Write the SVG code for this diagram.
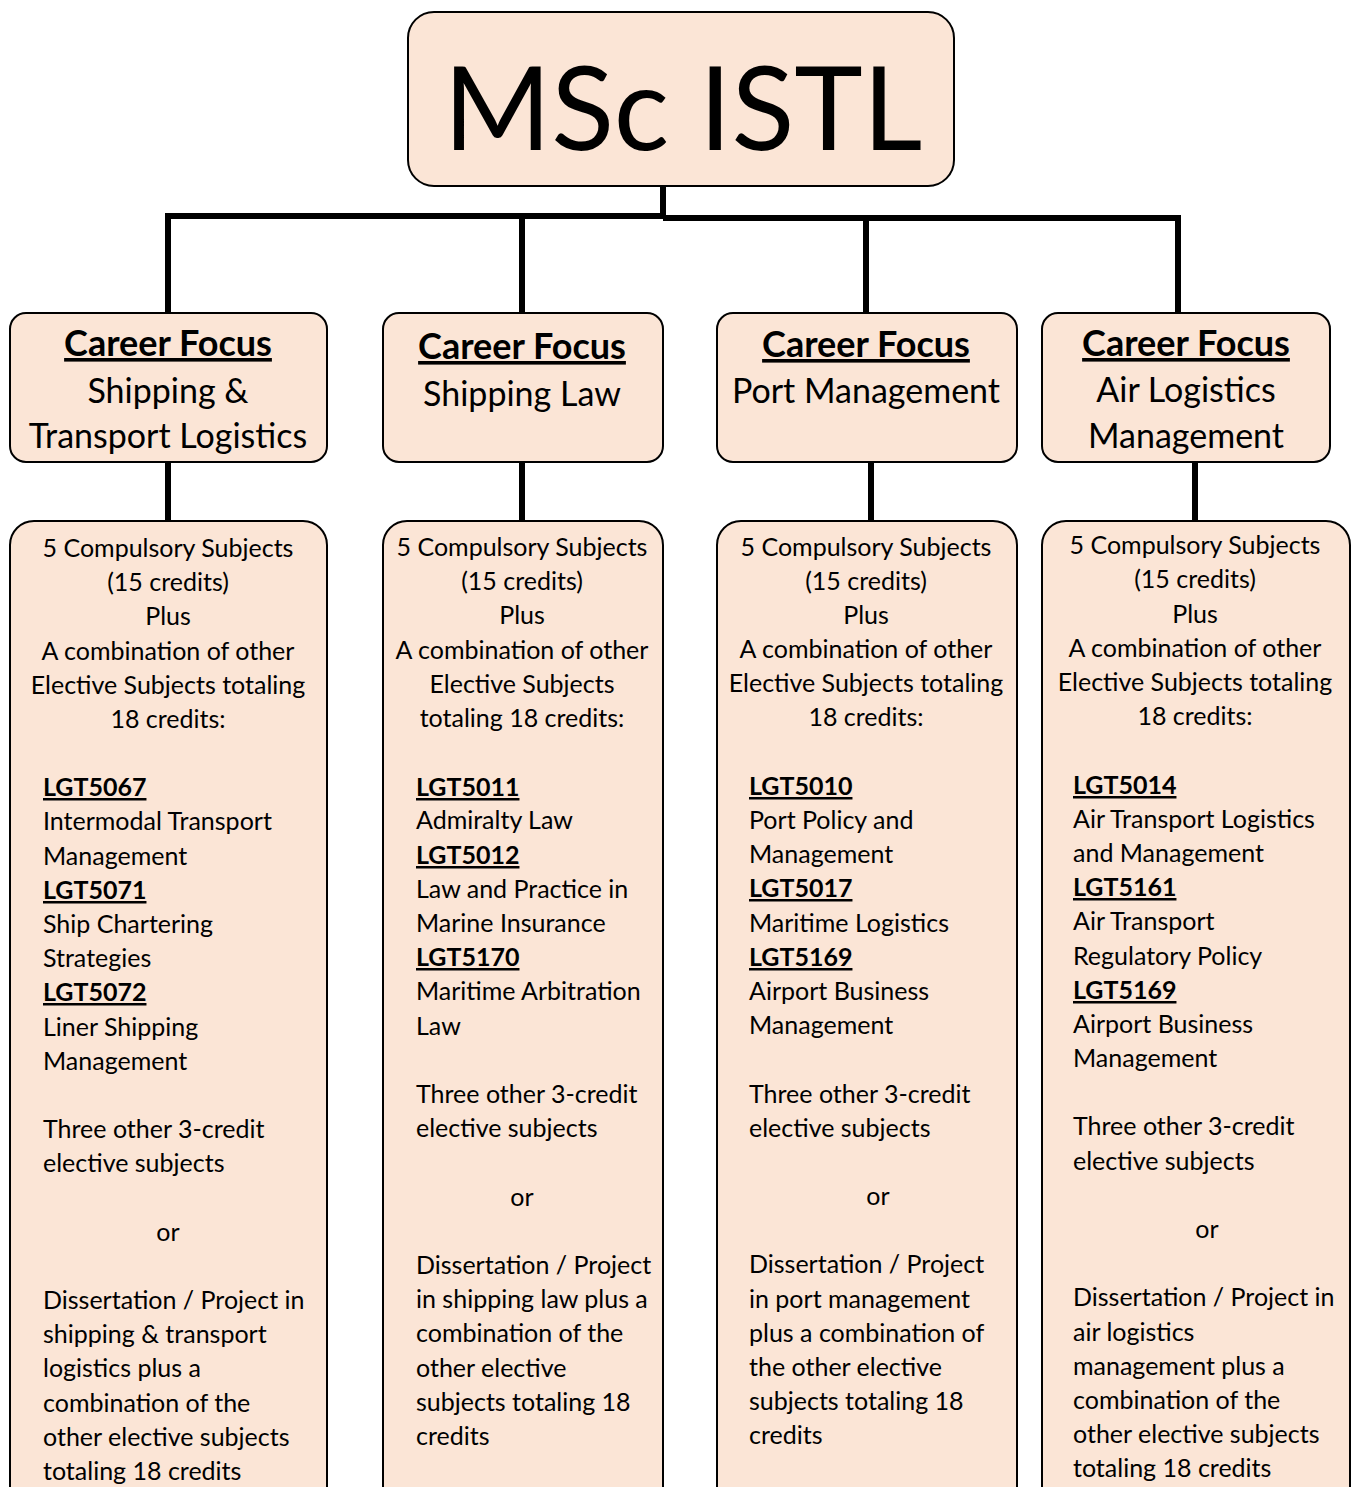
<svg xmlns="http://www.w3.org/2000/svg" width="1355" height="1487" viewBox="0 0 1355 1487">
<style>
.box{fill:#FBE5D6;stroke:#000;stroke-width:2}
.con{stroke:#000;stroke-width:6;fill:none;stroke-linecap:butt}
text{font-family:Lato,"Open Sans","Liberation Sans",sans-serif;fill:#000}
.t{font-size:116px;text-anchor:middle}
.h{font-size:36px;font-weight:bold;text-anchor:middle;text-decoration:underline}
.s{font-size:34px;text-anchor:middle}
.b{font-size:25px}
.m{text-anchor:middle}
.c{font-weight:bold;text-decoration:underline}
</style>
<rect width="1355" height="1487" fill="#fff"/>
<g id="connectors">
<path class="con" d="M663 186V216"/>
<path class="con" d="M165 216H663M663 218H1181"/>
<path class="con" d="M168 216V313M522 216V313M866 218V313M1178 218V313"/>
<path class="con" d="M168 462V521M522 462V521M871 462V521M1195 462V521"/>
</g>
<g id="root">
<rect class="box" x="408" y="12" width="546" height="174" rx="26"/>
<text class="t" x="683" y="150">MSc ISTL</text>
</g>
<g id="focus1">
<rect class="box" x="10" y="313" width="317" height="149" rx="16"/>
<text class="h" x="168" y="356">Career Focus</text>
<text class="s" x="168" y="403">Shipping &amp;</text>
<text class="s" x="168" y="448">Transport Logistics</text>
</g>
<g id="focus2">
<rect class="box" x="383" y="313" width="280" height="149" rx="16"/>
<text class="h" x="522" y="359">Career Focus</text>
<text class="s" x="522" y="406">Shipping Law</text>
</g>
<g id="focus3">
<rect class="box" x="717" y="313" width="300" height="149" rx="16"/>
<text class="h" x="866" y="357">Career Focus</text>
<text class="s" x="866" y="403">Port Management</text>
</g>
<g id="focus4">
<rect class="box" x="1042" y="313" width="288" height="149" rx="16"/>
<text class="h" x="1186" y="356">Career Focus</text>
<text class="s" x="1186" y="402">Air Logistics</text>
<text class="s" x="1186" y="448">Management</text>
</g>
<g id="detail1">
<rect class="box" x="10" y="521" width="317" height="990" rx="24"/>
<text class="b m" x="168" y="557">5 Compulsory Subjects</text>
<text class="b m" x="168" y="591">(15 credits)</text>
<text class="b m" x="168" y="625">Plus</text>
<text class="b m" x="168" y="660">A combination of other</text>
<text class="b m" x="168" y="694">Elective Subjects totaling</text>
<text class="b m" x="168" y="728">18 credits:</text>
<text class="b c" x="43" y="796">LGT5067</text>
<text class="b" x="43" y="830">Intermodal Transport</text>
<text class="b" x="43" y="865">Management</text>
<text class="b c" x="43" y="899">LGT5071</text>
<text class="b" x="43" y="933">Ship Chartering</text>
<text class="b" x="43" y="967">Strategies</text>
<text class="b c" x="43" y="1001">LGT5072</text>
<text class="b" x="43" y="1036">Liner Shipping</text>
<text class="b" x="43" y="1070">Management</text>
<text class="b" x="43" y="1138">Three other 3-credit</text>
<text class="b" x="43" y="1172">elective subjects</text>
<text class="b m" x="168" y="1241">or</text>
<text class="b" x="43" y="1309">Dissertation / Project in</text>
<text class="b" x="43" y="1343">shipping &amp; transport</text>
<text class="b" x="43" y="1377">logistics plus a</text>
<text class="b" x="43" y="1412">combination of the</text>
<text class="b" x="43" y="1446">other elective subjects</text>
<text class="b" x="43" y="1480">totaling 18 credits</text>
</g>
<g id="detail2">
<rect class="box" x="383" y="521" width="280" height="990" rx="24"/>
<text class="b m" x="522" y="556">5 Compulsory Subjects</text>
<text class="b m" x="522" y="590">(15 credits)</text>
<text class="b m" x="522" y="624">Plus</text>
<text class="b m" x="522" y="659">A combination of other</text>
<text class="b m" x="522" y="693">Elective Subjects</text>
<text class="b m" x="522" y="727">totaling 18 credits:</text>
<text class="b c" x="416" y="796">LGT5011</text>
<text class="b" x="416" y="829">Admiralty Law</text>
<text class="b c" x="416" y="864">LGT5012</text>
<text class="b" x="416" y="898">Law and Practice in</text>
<text class="b" x="416" y="932">Marine Insurance</text>
<text class="b c" x="416" y="966">LGT5170</text>
<text class="b" x="416" y="1000">Maritime Arbitration</text>
<text class="b" x="416" y="1035">Law</text>
<text class="b" x="416" y="1103">Three other 3-credit</text>
<text class="b" x="416" y="1137">elective subjects</text>
<text class="b m" x="522" y="1206">or</text>
<text class="b" x="416" y="1274">Dissertation / Project</text>
<text class="b" x="416" y="1308">in shipping law plus a</text>
<text class="b" x="416" y="1342">combination of the</text>
<text class="b" x="416" y="1377">other elective</text>
<text class="b" x="416" y="1411">subjects totaling 18</text>
<text class="b" x="416" y="1445">credits</text>
</g>
<g id="detail3">
<rect class="box" x="717" y="521" width="300" height="990" rx="24"/>
<text class="b m" x="866" y="556">5 Compulsory Subjects</text>
<text class="b m" x="866" y="590">(15 credits)</text>
<text class="b m" x="866" y="624">Plus</text>
<text class="b m" x="866" y="658">A combination of other</text>
<text class="b m" x="866" y="692">Elective Subjects totaling</text>
<text class="b m" x="866" y="726">18 credits:</text>
<text class="b c" x="749" y="795">LGT5010</text>
<text class="b" x="749" y="829">Port Policy and</text>
<text class="b" x="749" y="863">Management</text>
<text class="b c" x="749" y="897">LGT5017</text>
<text class="b" x="749" y="932">Maritime Logistics</text>
<text class="b c" x="749" y="966">LGT5169</text>
<text class="b" x="749" y="1000">Airport Business</text>
<text class="b" x="749" y="1034">Management</text>
<text class="b" x="749" y="1103">Three other 3-credit</text>
<text class="b" x="749" y="1137">elective subjects</text>
<text class="b m" x="878" y="1205">or</text>
<text class="b" x="749" y="1273">Dissertation / Project</text>
<text class="b" x="749" y="1308">in port management</text>
<text class="b" x="749" y="1342">plus a combination of</text>
<text class="b" x="749" y="1376">the other elective</text>
<text class="b" x="749" y="1410">subjects totaling 18</text>
<text class="b" x="749" y="1444">credits</text>
</g>
<g id="detail4">
<rect class="box" x="1042" y="521" width="308" height="990" rx="24"/>
<text class="b m" x="1195" y="554">5 Compulsory Subjects</text>
<text class="b m" x="1195" y="588">(15 credits)</text>
<text class="b m" x="1195" y="623">Plus</text>
<text class="b m" x="1195" y="657">A combination of other</text>
<text class="b m" x="1195" y="691">Elective Subjects totaling</text>
<text class="b m" x="1195" y="725">18 credits:</text>
<text class="b c" x="1073" y="794">LGT5014</text>
<text class="b" x="1073" y="828">Air Transport Logistics</text>
<text class="b" x="1073" y="862">and Management</text>
<text class="b c" x="1073" y="896">LGT5161</text>
<text class="b" x="1073" y="930">Air Transport</text>
<text class="b" x="1073" y="965">Regulatory Policy</text>
<text class="b c" x="1073" y="999">LGT5169</text>
<text class="b" x="1073" y="1033">Airport Business</text>
<text class="b" x="1073" y="1067">Management</text>
<text class="b" x="1073" y="1135">Three other 3-credit</text>
<text class="b" x="1073" y="1170">elective subjects</text>
<text class="b m" x="1207" y="1238">or</text>
<text class="b" x="1073" y="1306">Dissertation / Project in</text>
<text class="b" x="1073" y="1341">air logistics</text>
<text class="b" x="1073" y="1375">management plus a</text>
<text class="b" x="1073" y="1409">combination of the</text>
<text class="b" x="1073" y="1443">other elective subjects</text>
<text class="b" x="1073" y="1477">totaling 18 credits</text>
</g>
</svg>
